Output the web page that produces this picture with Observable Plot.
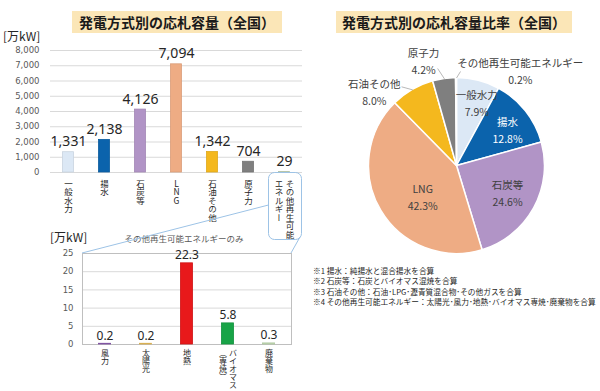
<!DOCTYPE html>
<html><head><meta charset="utf-8">
<script src="https://cdn.jsdelivr.net/npm/d3@7"></script>
<script src="https://cdn.jsdelivr.net/npm/@observablehq/plot@0.6"></script>
<style>
html,body{margin:0;padding:0;background:#fff;}
#root{position:relative;width:600px;height:391px;overflow:hidden;font-family:"Noto Sans CJK JP","Noto Sans",sans-serif;color:#262626;}
#root > svg, #root > div{position:absolute;}
.title{background:#FBE6B7;font-weight:700;font-size:14px;color:#1a1a1a;text-align:center;line-height:22px;height:22px;}
.unit{font-size:12px;color:#262626;line-height:14px;}
.sub{font-size:8.5px;color:#595959;line-height:10px;white-space:nowrap;}
.notes{font-size:7.7px;line-height:10.4px;color:#262626;white-space:nowrap;}
</style></head>
<body><div id="root"></div>
<script>
// ---------- data ----------
const categories = ["一般水力","揚水","石炭等","LNG","石油その他","原子力","その他再生可能エネルギー"];
const capacity = [1331, 2138, 4126, 7094, 1342, 704, 29];
const yTicks = [0,1000,2000,3000,4000,5000,6000,7000,8000];
const categoryLabelCols = [["一般水力"],["揚水"],["石炭等"],["LNG"],["石油その他"],["原子力"],["その他再生可能","エネルギー"]];

const renewCategories = ["風力","太陽光","地熱","バイオマス（専焼）","廃棄物"];
const renewCapacity = [0.2, 0.2, 22.3, 5.8, 0.3];
const renewTicks = [0,5,10,15,20,25];
const renewLabelCols = [["風力"],["太陽光"],["地熱"],["バイオマス","（専焼）"],["廃棄物"]];

const titles = ["発電方式別の応札容量（全国）","発電方式別の応札容量比率（全国）"];
const unitLabel = "[万kW]";
const insetTitle = "その他再生可能エネルギーのみ";
const notes = [
  "※1 揚水：純揚水と混合揚水を合算",
  "※2 石炭等：石炭とバイオマス混焼を合算",
  "※3 石油その他：石油･LPG･瀝青質混合物･その他ガスを合算",
  "※4 その他再生可能エネルギー：太陽光･風力･地熱･バイオマス専焼･廃棄物を合算"
];

// ---------- styles / layout (not data) ----------
const mainColors = ["#DCE8F5","#0B63AC","#B194C6","#EEAC84","#F4B81E","#7F7F7F","#C9D9B9"];
const renewColors = ["#8E5DB5","#F2C45B","#E8191B","#18A447","#C5E0B4"];
const jp = '"Noto Sans CJK JP", sans-serif';
const num = '"Noto Sans", sans-serif';
const tick = '"DejaVu Sans", sans-serif';
// pie label anchors in pie-unit coordinates (radius = 1)
const pieLabelAt = {
  "一般水力":[0.225,0.73], "揚水":[0.574,0.415], "石炭等":[0.574,-0.30], "LNG":[-0.39,-0.34],
  "石油その他":[-0.94,0.85], "原子力":[-0.38,1.205], "その他再生可能エネルギー":[0.72,1.09]
};
const pieLeaderFrom = {"石油その他":[-0.63,0.90], "原子力":[-0.22,1.108], "その他再生可能エネルギー":[0.04,1.074]};

const root = document.getElementById("root");
function place(el, left, top){ el.style.left = left+"px"; el.style.top = top+"px"; root.appendChild(el); return el; }
function div(cls, text, left, top, extra){ const d=document.createElement("div"); d.className=cls; d.textContent=text; if(extra) Object.assign(d.style, extra); return place(d,left,top); }
const verticalTexts = new Set([...categoryLabelCols.flat(), ...renewLabelCols.flat()]);
function makeVertical(svg){
  d3.select(svg).selectAll("text").each(function(){
    if (verticalTexts.has(this.textContent)) {
      this.style.writingMode = "vertical-rl";
      this.style.textOrientation = "upright";
    }
  });
}

const mainData = categories.map((c,i)=>({cat:c, v:capacity[i]}));
const mainLabels = categories.flatMap((c,i)=>categoryLabelCols[i].map((t,j)=>({cat:c, t, col:j, n:categoryLabelCols[i].length})));
const renewData = renewCategories.map((c,i)=>({cat:c, v:renewCapacity[i]}));
const renewLabels = renewCategories.flatMap((c,i)=>renewLabelCols[i].map((t,j)=>({cat:c, t, col:j, n:renewLabelCols[i].length})));

function colLabelMarks(data, dy, fontSize, gap){
  const base = {x:"cat", y:()=>0, text:"t", dy, textAnchor:"start", lineAnchor:"bottom", fontSize, fill:"#262626", fontFamily:jp};
  return [
    Plot.text(data.filter(d=>d.n===1), base),
    Plot.text(data.filter(d=>d.n===2 && d.col===0), {...base, dx:gap}),
    Plot.text(data.filter(d=>d.n===2 && d.col===1), {...base, dx:-gap})
  ];
}

// ---------- main bar chart ----------
const main = Plot.plot({
  width:304, height:210, marginTop:14, marginBottom:74, marginLeft:50, marginRight:2,
  style:{background:"transparent", overflow:"visible"},
  x:{domain:categories, padding:0, axis:null},
  y:{domain:[0,8000], axis:null},
  color:{domain:categories, range:mainColors},
  marks:[
    Plot.gridY(yTicks, {stroke:"#d9d9d9", strokeOpacity:1}),
    Plot.axisY(yTicks, {tickSize:0, tickPadding:11, tickFormat:d3.format(","), fontSize:8.5, fill:"#595959", fontFamily:tick, label:null}),
    Plot.barY(mainData, {x:"cat", y:"v", fill:"cat", stroke:d=>d3.color(mainColors[categories.indexOf(d.cat)]).darker(0.25).formatHex(), strokeWidth:0.8, insetLeft:12.5, insetRight:12.5}),
    Plot.text(mainData, {x:"cat", y:"v", text:d=>d3.format(",")(d.v), dy:-6, lineAnchor:"bottom", fontSize:14, fill:"#262626", fontFamily:num}),
    ...colLabelMarks(mainLabels, 7, 8.5, 5.5)
  ]
});
makeVertical(main);
place(main, 0, 36);

// ---------- inset bar chart ----------
const inset = Plot.plot({
  width:300, height:145, marginTop:7, marginBottom:47, marginLeft:82, marginRight:9,
  style:{background:"transparent", overflow:"visible"},
  x:{domain:renewCategories, padding:0, axis:null},
  y:{domain:[0,25], axis:null},
  color:{domain:renewCategories, range:renewColors},
  marks:[
    Plot.gridY(renewTicks, {stroke:"#d9d9d9", strokeOpacity:1}),
    Plot.frame({stroke:"#bfbfbf"}),
    Plot.axisY(renewTicks, {tickSize:0, tickPadding:9, fontSize:8.5, fill:"#595959", fontFamily:tick, label:null}),
    Plot.barY(renewData, {x:"cat", y:"v", fill:"cat", stroke:d=>d3.color(renewColors[renewCategories.indexOf(d.cat)]).darker(0.3).formatHex(), strokeWidth:0.8, insetLeft:14.4, insetRight:14.4}),
    Plot.text(renewData, {x:"cat", y:"v", text:d=>d3.format(".1f")(d.v), dy:-4, lineAnchor:"bottom", fontSize:12, fill:"#262626", fontFamily:num}),
    ...colLabelMarks(renewLabels, 4, 8, 5)
  ]
});
makeVertical(inset);
place(inset, 0, 246);

// ---------- pie chart ----------
const total = d3.sum(capacity);
const pieColor = Plot.scale({color:{type:"ordinal", domain:categories, range:mainColors}});
const arcs = d3.pie().sort(null).value(d=>d.v)(mainData);
const mid = a => (a.startAngle + a.endAngle)/2;
const pieLabels = arcs.map(a=>({cat:a.data.cat, x:pieLabelAt[a.data.cat][0], y:pieLabelAt[a.data.cat][1],
  text:`${a.data.cat}\n${d3.format(".1%")(a.data.v/total)}`}));
const leaders = arcs.filter(a=>pieLeaderFrom[a.data.cat]).map(a=>({
  x1:pieLeaderFrom[a.data.cat][0], y1:pieLeaderFrom[a.data.cat][1],
  x2:Math.sin(mid(a)), y2:Math.cos(mid(a))}));
const pie = Plot.plot({
  width:300, height:225, margin:0,
  style:{background:"transparent", overflow:"visible"},
  x:{domain:[-1,1], range:[68.5,244.5], axis:null},
  y:{domain:[-1,1], range:[217.5,41.5], axis:null},
  marks:[
    (index, scales) => {
      const cx = scales.x(0), cy = scales.y(0), r = scales.x(1) - scales.x(0);
      const g = d3.create("svg:g").attr("transform", `translate(${cx},${cy})`);
      g.selectAll("path").data(arcs).join("path")
        .attr("d", d3.arc().innerRadius(0).outerRadius(r))
        .attr("fill", d=>pieColor.apply(d.data.cat))
        .attr("stroke", "#fff").attr("stroke-width", 1.5);
      return g.node();
    },
    Plot.link(leaders, {x1:"x1", y1:"y1", x2:"x2", y2:"y2", stroke:"#a6a6a6", strokeWidth:0.8}),
    Plot.text(pieLabels, {x:"x", y:"y", text:"text", fontSize:10.5, lineHeight:1.6, fontFamily:jp,
      fill:d=>d.cat==="揚水" ? "#ffffff" : "#404040"})
  ]
});
place(pie, 300, 36);

// ---------- texts & decorations ----------
div("title", titles[0], 72, 11, {width:"210px"});
div("title", titles[1], 336, 11, {width:"236px"});
div("unit", unitLabel, 3, 29);
div("unit", unitLabel, 50, 230);
div("sub", insetTitle, 124, 233, {width:"120px", textAlign:"center"});
const nd = div("notes", "", 313, 266);
notes.forEach(t=>{ const l=document.createElement("div"); l.textContent=t; nd.appendChild(l); });

const deco = d3.create("svg").attr("width",600).attr("height",391).style("pointer-events","none");
deco.append("rect").attr("x",268.5).attr("y",172.5).attr("width",33).attr("height",67).attr("rx",6)
  .attr("fill","none").attr("stroke","#9DC3E6").attr("stroke-width",1);
deco.append("line").attr("x1",268.5).attr("y1",205).attr("x2",82).attr("y2",253).attr("stroke","#9DC3E6");
deco.append("line").attr("x1",300).attr("y1",237).attr("x2",291).attr("y2",253).attr("stroke","#9DC3E6");
place(deco.node(), 0, 0);
</script>
</body></html>
